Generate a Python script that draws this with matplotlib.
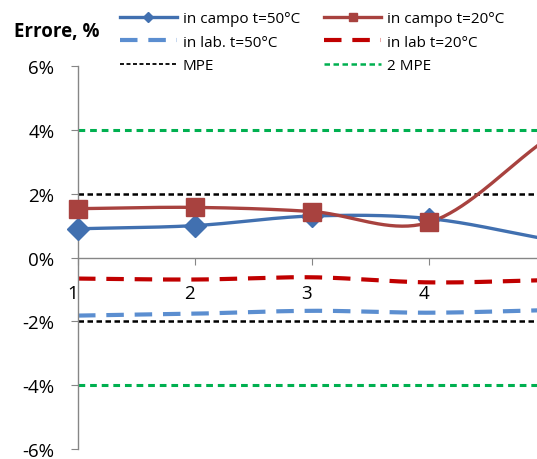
import numpy as np
import matplotlib
matplotlib.use("Agg")
import matplotlib.pyplot as plt
from matplotlib.ticker import FuncFormatter, FixedLocator
from matplotlib.lines import Line2D

plt.rcParams['font.family'] = ['Open Sans', 'DejaVu Sans']

# data (point 5 is outside the visible range)
points = [1, 2, 3, 4, 5]
campo_50 = [0.90, 1.00, 1.30, 1.22, 0.58]
campo_20 = [1.53, 1.57, 1.44, 1.10, 3.70]
lab_50 = [-1.82, -1.76, -1.67, -1.73, -1.65]
lab_20 = [-0.66, -0.69, -0.62, -0.78, -0.71]
mpe = 2.0
mpe2 = 4.0
tick_labels = ['1', '2', '3', '4']


def smooth(x, y, n=40):
    # Catmull-Rom spline, like Excel "smoothed line"
    x = np.asarray(x, float)
    y = np.asarray(y, float)
    px = np.concatenate([[2 * x[0] - x[1]], x, [2 * x[-1] - x[-2]]])
    py = np.concatenate([[2 * y[0] - y[1]], y, [2 * y[-1] - y[-2]]])
    xs, ys = [], []
    t = np.linspace(0, 1, n)
    for i in range(1, len(px) - 2):
        for p, out in ((px, xs), (py, ys)):
            p0, p1, p2, p3 = p[i - 1], p[i], p[i + 1], p[i + 2]
            out.append(0.5 * ((2 * p1) + (-p0 + p2) * t
                              + (2 * p0 - 5 * p1 + 4 * p2 - p3) * t ** 2
                              + (-p0 + 3 * p1 - 3 * p2 + p3) * t ** 3))
    return np.concatenate(xs), np.concatenate(ys)


BLUE = '#4170B0'
RED = '#A8423F'
LBLUE = '#5B8ED0'
LRED = '#C00000'
GREEN = '#00B050'

fig = plt.figure(figsize=(5.37, 4.6), dpi=100)
ax = fig.add_axes([78 / 537, 10 / 460, 1 - 78 / 537, 383 / 460])

ax.axhline(mpe2, color=GREEN, lw=2.2, dashes=(2.2, 1.6))
ax.axhline(-mpe2, color=GREEN, lw=2.2, dashes=(2.2, 1.6))
ax.axhline(mpe, color='black', lw=1.8, dashes=(2.2, 1.4))
ax.axhline(-mpe, color='black', lw=1.8, dashes=(2.2, 1.4))

ax.plot(*smooth(points, lab_50), color=LBLUE, lw=3, dashes=(4.2, 2.6))
ax.plot(*smooth(points, lab_20), color=LRED, lw=3, dashes=(4.2, 2.6))

ax.plot(*smooth(points, campo_50), color=BLUE, lw=2.4)
ax.plot(points[:4], campo_50[:4], ls='none', marker='D', ms=11, color=BLUE,
        clip_on=False, zorder=4)
ax.plot(*smooth(points, campo_20), color=RED, lw=2.4)
ax.plot(points[:4], campo_20[:4], ls='none', marker='s', ms=13, color=RED,
        clip_on=False, zorder=4)

ax.set_ylim(-6, 6)
ax.set_xlim(1, 1 + 459 / 117)
ax.set_yticks([-6, -4, -2, 0, 2, 4, 6])
ax.yaxis.set_major_formatter(FuncFormatter(lambda v, p: '%d%%' % v))
ax.xaxis.set_major_locator(FixedLocator([1, 2, 3, 4]))
ax.set_xticklabels(tick_labels)

for s in ('top', 'right'):
    ax.spines[s].set_visible(False)
ax.spines['bottom'].set_position(('data', 0))
for s in ('left', 'bottom'):
    ax.spines[s].set_color('#868686')
    ax.spines[s].set_linewidth(1.0)
ax.tick_params(axis='y', length=5, color='#868686', labelsize=13.5, pad=12)
ax.tick_params(axis='x', length=5, color='#868686', labelsize=13.5, pad=14)
for lab in ax.get_xticklabels():
    lab.set_horizontalalignment('right')

fig.text(14 / 537, 1 - 32 / 460, 'Errore, %', fontsize=13.5, fontweight='bold',
         va='center', ha='left')

handles = [
    Line2D([], [], color=BLUE, lw=2.4, marker='D', ms=5),
    Line2D([], [], color=LBLUE, lw=3, dashes=(4.2, 2.6)),
    Line2D([], [], color='black', lw=1.3, dashes=(2.2, 1.4)),
    Line2D([], [], color=RED, lw=2.4, marker='s', ms=6),
    Line2D([], [], color=LRED, lw=3, dashes=(4.2, 2.6)),
    Line2D([], [], color=GREEN, lw=1.8, dashes=(2.2, 1.4)),
]
labels = ['in campo t=50°C', 'in lab. t=50°C', 'MPE',
          'in campo t=20°C', 'in lab t=20°C', '2 MPE']
fig.legend(handles, labels, loc='upper left', ncol=2,
           bbox_to_anchor=(114 / 537, 1 - 6 / 460), frameon=False,
           fontsize=11, handlelength=3.7, handletextpad=0.4,
           columnspacing=1.6, labelspacing=0.55, borderaxespad=0)

fig.savefig('out.png', dpi=100)
